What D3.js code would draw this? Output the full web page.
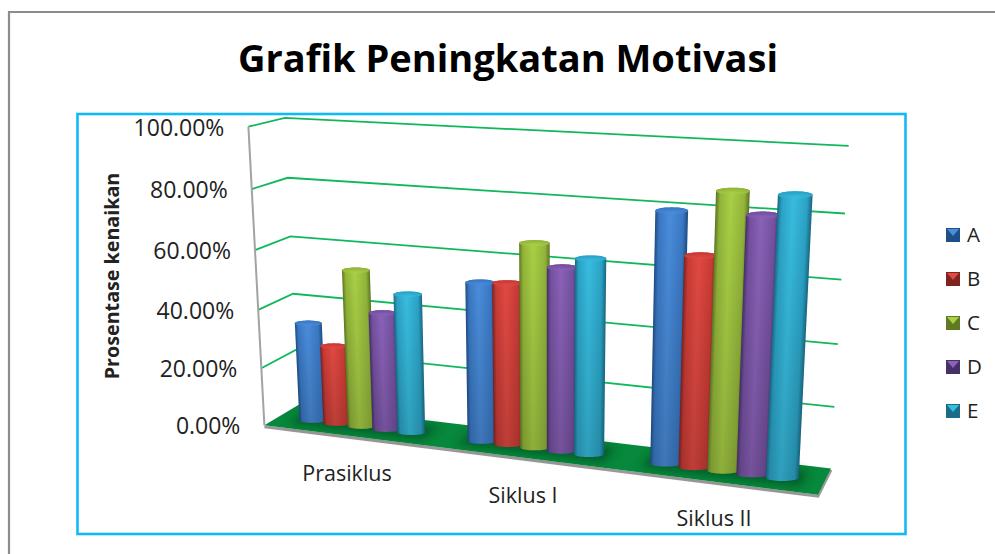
<!DOCTYPE html>
<html>
<head>
<meta charset="utf-8">
<script src="https://cdn.jsdelivr.net/npm/d3@7"></script>
<style>
  html, body { margin: 0; padding: 0; background: #fff; }
  text { font-family: "Open Sans", Lato, sans-serif; fill: #222; font-variant-ligatures: none; }
</style>
</head>
<body>
<div id="chart-area"></div>
<script>
const categories = ['Prasiklus', 'Siklus I', 'Siklus II'];
const seriesNames = ['A', 'B', 'C', 'D', 'E'];
const seriesA = [34, 53, 80];
const seriesB = [27, 53.5, 67];
const seriesC = [53.5, 67, 87];
const seriesD = [40, 60, 80.5];
const seriesE = [47, 63.5, 87];
const yTicks = [0, 20, 40, 60, 80, 100];

const seriesValues = [seriesA, seriesB, seriesC, seriesD, seriesE];
const colors = [
  { light: '#4a8ddb', mid: '#3a78c4', dark: '#1f4f87' },
  { light: '#e04a42', mid: '#c93a35', dark: '#7f2320' },
  { light: '#a9d046', mid: '#93b53a', dark: '#5f7a22' },
  { light: '#8a62b8', mid: '#7450a0', dark: '#46306a' },
  { light: '#38bde0', mid: '#2ba3c6', dark: '#1a6c88' }
];

const svg = d3.select('#chart-area')
  .append('svg')
  .attr('width', 995)
  .attr('height', 554)
  .style('display', 'block');

const defs = svg.append('defs');
defs.append('filter').attr('id', 'soft')
  .attr('x', '-30%').attr('y', '-60%').attr('width', '160%').attr('height', '220%')
  .append('feGaussianBlur').attr('stdDeviation', 4);

// camera fitted to the box corners seen in the picture: [x, value, depth] -> [px, py]
const calibration = [
  [[0, 100, 0], [247, 127]], [[0, 80, 0], [252, 189]], [[0, 60, 0], [256, 250]],
  [[0, 40, 0], [258, 310]], [[0, 20, 0], [262, 368]], [[0, 0, 0], [264, 425]],
  [[0, 100, 1], [285, 117]], [[0, 80, 1], [288, 178]], [[0, 60, 1], [291, 237]],
  [[0, 40, 1], [293, 294]], [[0, 20, 1], [295, 350]], [[0, 0, 1], [298, 405]],
  [[1, 100, 1], [848, 146]], [[1, 80, 1], [845, 213]], [[1, 60, 1], [842, 280]],
  [[1, 40, 1], [838, 344]], [[1, 20, 1], [834, 407]], [[1, 0, 1], [831, 468]],
  [[1, 0, 0], [818, 495]]
];

function fitCamera(points) {
  const n = 11;
  const A = d3.range(n).map(() => new Array(n + 1).fill(0));
  function addRow(row, b) {
    for (let i = 0; i < n; i++) {
      for (let j = 0; j < n; j++) A[i][j] += row[i] * row[j];
      A[i][n] += row[i] * b;
    }
  }
  points.forEach(([w, s]) => {
    const X = w[0], Y = w[1] / 100, Z = w[2];
    addRow([X, Y, Z, 1, 0, 0, 0, 0, -s[0] * X, -s[0] * Y, -s[0] * Z], s[0]);
    addRow([0, 0, 0, 0, X, Y, Z, 1, -s[1] * X, -s[1] * Y, -s[1] * Z], s[1]);
  });
  for (let c = 0; c < n; c++) {
    let p = c;
    for (let r = c + 1; r < n; r++) if (Math.abs(A[r][c]) > Math.abs(A[p][c])) p = r;
    [A[c], A[p]] = [A[p], A[c]];
    for (let r = 0; r < n; r++) {
      if (r === c) continue;
      const f = A[r][c] / A[c][c];
      for (let k = c; k <= n; k++) A[r][k] -= f * A[c][k];
    }
  }
  return d3.range(n).map((i) => A[i][n] / A[i][i]);
}

const m = fitCamera(calibration);

function project(x, value, z) {
  const y = value / 100;
  const w = m[8] * x + m[9] * y + m[10] * z + 1;
  return [
    (m[0] * x + m[1] * y + m[2] * z + m[3]) / w,
    (m[4] * x + m[5] * y + m[6] * z + m[7]) / w
  ];
}

const line = d3.line();

// world scales along the floor
const xCategory = d3.scaleBand().domain(categories).range([0, 1]).paddingInner(0.26).paddingOuter(0.13);
const xSeries = d3.scaleBand().domain(seriesNames).range([0, xCategory.bandwidth()]);
const zMid = 0.44;
const rx = xSeries.bandwidth() * 0.55;

// cap and base drawn as a level ellipse: the chart's own depth skew is dropped
function ringAt(cx, value) {
  const left = project(cx - rx, value, zMid);
  const right = project(cx + rx, value, zMid);
  const centre = [(left[0] + right[0]) / 2, (left[1] + right[1]) / 2];
  const a = Math.abs(right[0] - left[0]) / 2;
  const b = a * 0.2;
  return d3.range(48).map((i) => {
    const t = i / 48 * Math.PI * 2;
    return [centre[0] + a * Math.cos(t), centre[1] + b * Math.sin(t)];
  });
}

// outer frames
svg.append('path')
  .attr('d', 'M9,554 V12 H995')
  .attr('fill', 'none').attr('stroke', '#8c8c8c').attr('stroke-width', 2.2);
svg.append('rect')
  .attr('x', 77.5).attr('y', 114).attr('width', 828).attr('height', 420)
  .attr('fill', '#fff').attr('stroke', '#12baf5').attr('stroke-width', 2.6);

svg.append('text')
  .attr('x', 508).attr('y', 72)
  .attr('text-anchor', 'middle')
  .attr('font-size', 38).attr('font-weight', 700)
  .style('fill', '#000')
  .text('Grafik Peningkatan Motivasi');

// floor
const floorCorners = [[0, 0], [1, 0], [1, 1], [0, 1]].map((d) => project(d[0], 0, d[1]));
svg.append('path')
  .attr('d', line([floorCorners[0], floorCorners[1], floorCorners[2]].map((p) => [p[0], p[1] + 1.5])))
  .attr('fill', 'none').attr('stroke', '#9a9a9a').attr('stroke-width', 3);
svg.append('path')
  .attr('d', line(floorCorners) + 'Z')
  .attr('fill', '#07883c');

// gridlines: side wall then back wall
const gridGroup = svg.append('g');
gridGroup.selectAll('path')
  .data(yTicks.slice(1))
  .enter()
  .append('path')
  .attr('d', (t) => line([project(0, t, 0), project(0, t, 1), project(1, t, 1)]))
  .attr('fill', 'none')
  .attr('stroke', '#10b85c')
  .attr('stroke-width', 1.8);

// value axis line
svg.append('path')
  .attr('d', line([project(0, 100, 0), project(0, 0, 0)]))
  .attr('stroke', '#a3a3a3').attr('stroke-width', 2).attr('fill', 'none');

// tick labels follow the slanted axis
svg.append('g').selectAll('text')
  .data(yTicks)
  .enter()
  .append('text')
  .attr('x', (t) => project(0, t, 0)[0] - 24)
  .attr('y', (t) => project(0, t, 0)[1] + 9)
  .attr('text-anchor', 'end')
  .attr('font-size', 23)
  .text((t) => d3.format('.2%')(t / 100));

svg.append('text')
  .attr('transform', 'translate(119,276) rotate(-90)')
  .attr('text-anchor', 'middle')
  .attr('font-size', 19.7).attr('font-weight', 700)
  .text('Prosentase kenaikan');

// category labels below the front floor edge
const categoryLabelPos = [[347, 481], [523, 503], [714, 526]];
svg.append('g').selectAll('text')
  .data(categories)
  .enter()
  .append('text')
  .attr('x', (d, i) => categoryLabelPos[i][0])
  .attr('y', (d, i) => categoryLabelPos[i][1])
  .attr('text-anchor', 'middle')
  .attr('font-size', 21.5)
  .text((d) => d);

// soft contact shadow of each category on the floor
const shadowGroup = svg.append('g').attr('filter', 'url(#soft)');
categories.forEach((cat) => {
  const x0 = xCategory(cat) - 0.01;
  const x1 = xCategory(cat) + xCategory.bandwidth() + 0.01;
  shadowGroup.append('path')
    .attr('d', line([project(x0, 0, 0.2), project(x1, 0, 0.2), project(x1, 0, 0.8), project(x0, 0, 0.8)]) + 'Z')
    .attr('fill', '#03401d').attr('opacity', 0.6);
});

// cylinders
const barGroup = svg.append('g');
seriesNames.forEach((name, s) => {
  categories.forEach((cat, c) => {
    const value = seriesValues[s][c];
    const cx = xCategory(cat) + xSeries(name) + xSeries.bandwidth() / 2;
    const bottom = ringAt(cx, 0);
    const top = ringAt(cx, value);
    const hull = d3.polygonHull(bottom.concat(top));

    // shading runs square to the bar's own lean
    const base = project(cx, 0, zMid);
    const tip = project(cx, value, zMid);
    const mid = project(cx, value / 2, zMid);
    const len = Math.hypot(tip[0] - base[0], tip[1] - base[1]);
    const perp = [(base[1] - tip[1]) / len, (tip[0] - base[0]) / len];
    const halfWidth = Math.abs(project(cx + rx, value / 2, zMid)[0] - project(cx - rx, value / 2, zMid)[0]) / 2;
    const id = 'side-' + s + '-' + c;
    const grad = defs.append('linearGradient').attr('id', id)
      .attr('gradientUnits', 'userSpaceOnUse')
      .attr('x1', mid[0] - perp[0] * halfWidth).attr('y1', mid[1] - perp[1] * halfWidth)
      .attr('x2', mid[0] + perp[0] * halfWidth).attr('y2', mid[1] + perp[1] * halfWidth);
    [[0, colors[s].dark], [0.12, colors[s].mid], [0.45, colors[s].light], [0.86, colors[s].mid], [1, colors[s].dark]]
      .forEach((d) => grad.append('stop').attr('offset', d[0]).attr('stop-color', d[1]));

    barGroup.append('path').attr('d', line(hull) + 'Z').attr('fill', 'url(#' + id + ')');

    const fadeId = 'fade-' + s + '-' + c;
    const fade = defs.append('linearGradient').attr('id', fadeId)
      .attr('x1', 0).attr('y1', 0).attr('x2', 0).attr('y2', 1);
    fade.append('stop').attr('offset', 0).attr('stop-color', '#000').attr('stop-opacity', 0);
    fade.append('stop').attr('offset', 1).attr('stop-color', '#000').attr('stop-opacity', 0.16);
    barGroup.append('path').attr('d', line(hull) + 'Z').attr('fill', 'url(#' + fadeId + ')');

    const capId = 'cap-' + s + '-' + c;
    const cap = defs.append('radialGradient').attr('id', capId)
      .attr('cx', 0.5).attr('cy', 0.85).attr('r', 0.7);
    cap.append('stop').attr('offset', 0).attr('stop-color', colors[s].light);
    cap.append('stop').attr('offset', 1).attr('stop-color', colors[s].mid);
    barGroup.append('path').attr('d', line(top) + 'Z').attr('fill', 'url(#' + capId + ')');
  });
});

// legend
const legendRow = d3.scalePoint().domain(seriesNames).range([235, 411]);
const legend = svg.append('g').selectAll('g')
  .data(seriesNames)
  .enter()
  .append('g')
  .attr('transform', (d) => 'translate(946,' + legendRow(d) + ')');
legend.each(function (d, i) {
  const g = d3.select(this);
  g.append('rect').attr('x', 0).attr('y', -7).attr('width', 14).attr('height', 14).attr('fill', colors[i].dark);
  g.append('path').attr('d', 'M1,-6 H13 L7,1 Z').attr('fill', colors[i].light);
  g.append('text').attr('x', 21).attr('y', 7).attr('font-size', 20.5).text(d);
});
</script>
</body>
</html>
